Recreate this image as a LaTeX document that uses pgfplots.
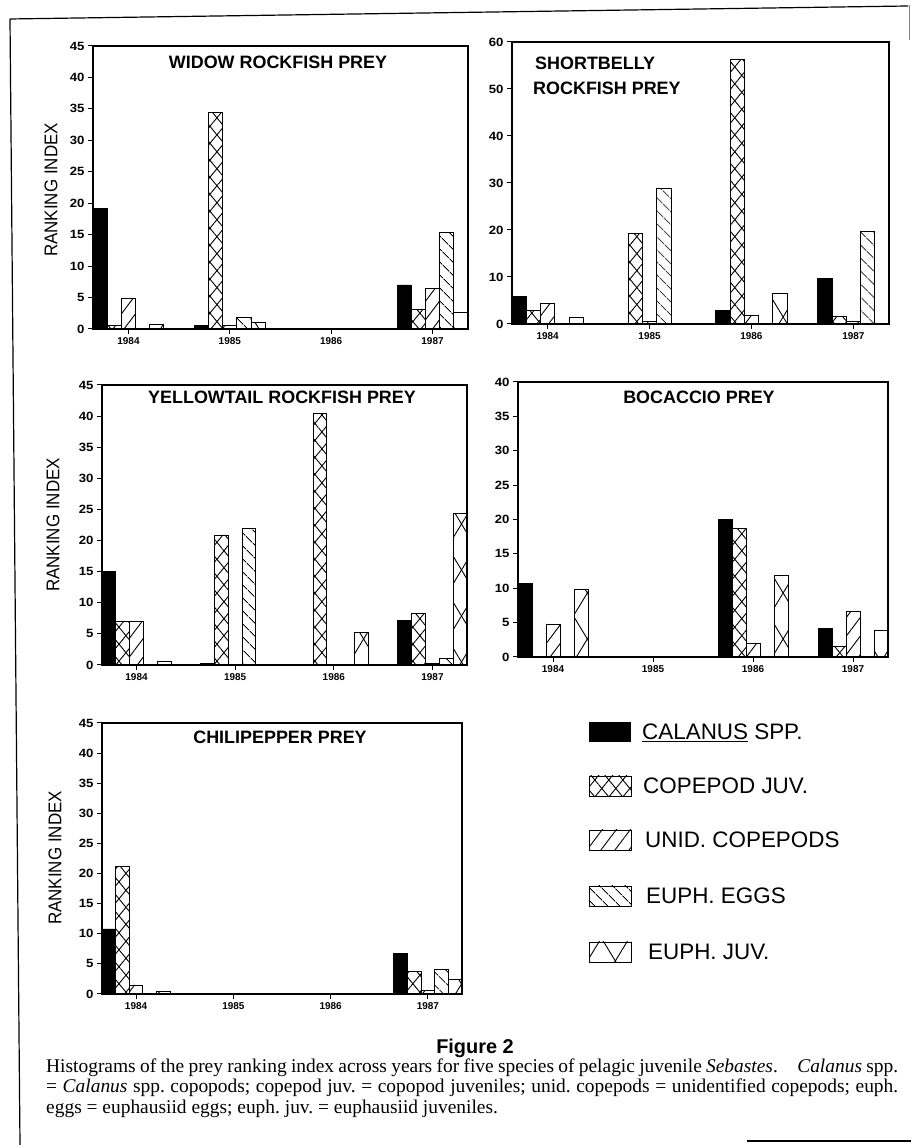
\documentclass[border=0pt]{standalone}
\usepackage{fontspec}
\setmainfont{Liberation Serif}
\newfontfamily\sansf{Liberation Sans}
\newfontfamily\ytickf[FakeStretch=1.1]{Liberation Sans}
\newfontfamily\narrowf[FakeStretch=0.92]{Liberation Sans}
\usepackage{pgfplots}
\pgfplotsset{compat=1.18}
\usetikzlibrary{patterns.meta}
\frenchspacing

\tikzset{
 pcop/.style={pattern={Lines[angle=50.5,distance=10.8bp,line width=0.9bp]},
   postaction={pattern={Lines[angle=-50.5,distance=10.8bp,line width=0.9bp]}}},
 punid/.style={pattern={Lines[angle=53,distance=11.2bp,line width=0.9bp]}},
 peggs/.style={pattern={Lines[angle=-45,distance=10bp,line width=0.9bp]}},
 pjuv/.style={pattern={Lines[angle=58.7,distance=23.9bp,line width=0.9bp]},
   postaction={pattern={Lines[angle=-58.7,distance=23.9bp,line width=0.9bp]}}},
}

\pgfplotsset{
 panel/.style={
  scale only axis, anchor=south west,
  xmin=-0.35, xmax=3.35, ymin=0,
  xtick={0,1,2,3}, xticklabels={1984,1985,1986,1987},
  xtick pos=bottom, ytick pos=left, tick align=outside,
  major tick length=5bp,
  axis line style={line width=1.2bp},
  every tick/.style={black, line width=1bp},
  xticklabel style={font=\sansf\bfseries\fontsize{10}{10}\selectfont},
  /pgf/number format/assume math mode=true,
  yticklabel={\pgfmathprintnumber[assume math mode=true]{\tick}},
  yticklabel style={font=\ytickf\bfseries\fontsize{12}{12}\selectfont},
  bar width=0.14,
 },
 calb/.style={ybar, bar shift=-0.28, draw=black, line width=0.9bp, fill=black},
 copb/.style={ybar, bar shift=-0.14, draw=black, line width=0.9bp, pcop},
 unidb/.style={ybar, bar shift=0, draw=black, line width=0.9bp, punid},
 eggsb/.style={ybar, bar shift=0.14, draw=black, line width=0.9bp, peggs},
 juvb/.style={ybar, bar shift=0.28, draw=black, line width=0.9bp, pjuv},
}

\newcommand\bars[5]{%
 \addplot[calb] coordinates {#1};
 \addplot[copb] coordinates {#2};
 \addplot[unidb] coordinates {#3};
 \addplot[eggsb] coordinates {#4};
 \addplot[juvb] coordinates {#5};
}

\newcommand\titlef{\sansf\bfseries\fontsize{18}{18}\selectfont}
\newcommand\ylabf{\narrowf\fontsize{18.5}{18.5}\selectfont}
\newcommand\legf{\sansf\fontsize{22.5}{22.5}\selectfont}

\begin{document}
\begin{tikzpicture}
\useasboundingbox (0,0) rectangle (911bp,1145bp);

% frame
\draw[line width=1.2bp] (10bp,1126bp) -- (908bp,1139bp);
\draw[line width=1.2bp] (10bp,1126bp) -- (20bp,0bp);
\draw[gray, line width=0.8bp] (909bp,1140bp) -- (909bp,1105bp);
\draw[line width=2bp] (747bp,4bp) -- (911bp,4bp);

% Panel 1: Widow
\begin{axis}[panel, at={(93bp,816bp)}, width=375bp, height=283bp,
  ymax=45, ytick={0,5,...,45}]
\bars{(0,19.1) (1,0.5) (2,0) (3,7.0)}
     {(0,0.6) (1,34.5) (2,0) (3,3.1)}
     {(0,4.8) (1,0.6) (2,0) (3,6.5)}
     {(0,0.1) (1,1.8) (2,0) (3,15.3)}
     {(0,0.8) (1,1.1) (2,0) (3,2.7)}
\end{axis}

% Panel 2: Shortbelly
\begin{axis}[panel, at={(512bp,821bp)}, width=377bp, height=282bp,
  ymax=60, ytick={0,10,...,60}]
\bars{(0,5.9) (1,0.1) (2,2.8) (3,9.6)}
     {(0,2.8) (1,19.3) (2,56.3) (3,1.6)}
     {(0,4.3) (1,0.5) (2,1.8) (3,0.5)}
     {(0,0.1) (1,28.9) (2,0) (3,19.7)}
     {(0,1.4) (1,0.1) (2,6.5) (3,0)}
\end{axis}

% Panel 3: Yellowtail
\begin{axis}[panel, at={(102bp,480bp)}, width=365bp, height=280bp,
  ymax=45, ytick={0,5,...,45}]
\bars{(0,15.0) (1,0.2) (2,0) (3,7.1)}
     {(0,7.0) (1,20.9) (2,40.4) (3,8.3)}
     {(0,7.0) (1,0) (2,0) (3,0.3)}
     {(0,0.1) (1,22.0) (2,0) (3,1.0)}
     {(0,0.5) (1,0) (2,5.2) (3,24.3)}
\end{axis}

% Panel 4: Bocaccio
\begin{axis}[panel, at={(518bp,488bp)}, width=370bp, height=275bp,
  ymax=40, ytick={0,5,...,40}]
\bars{(0,10.7) (1,0) (2,20.0) (3,4.1)}
     {(0,0) (1,0) (2,18.7) (3,1.6)}
     {(0,4.8) (1,0) (2,2.0) (3,6.6)}
     {(0,0) (1,0) (2,0) (3,0)}
     {(0,9.8) (1,0) (2,11.9) (3,3.8)}
\end{axis}

% Panel 5: Chilipepper
\begin{axis}[panel, at={(102bp,151bp)}, width=360bp, height=271bp,
  ymax=45, ytick={0,5,...,45}]
\bars{(0,10.8) (1,0) (2,0) (3,6.7)}
     {(0,21.2) (1,0) (2,0) (3,3.7)}
     {(0,1.5) (1,0) (2,0) (3,0.6)}
     {(0,0) (1,0) (2,0) (3,4.1)}
     {(0,0.4) (1,0) (2,0) (3,2.4)}
\end{axis}

% titles
\node[font=\titlef] at (278bp,1083bp) {WIDOW ROCKFISH PREY};
\node[font=\titlef, anchor=west, inner sep=0pt] at (535bp,1082bp) {SHORTBELLY};
\node[font=\titlef, anchor=west, inner sep=0pt] at (533bp,1057bp) {ROCKFISH PREY};
\node[font=\titlef] at (282bp,748bp) {YELLOWTAIL ROCKFISH PREY};
\node[font=\titlef] at (699bp,748bp) {BOCACCIO PREY};
\node[font=\titlef] at (280bp,408bp) {CHILIPEPPER PREY};

% y labels
\node[font=\ylabf, rotate=90] at (51bp,955bp) {RANKING INDEX};
\node[font=\ylabf, rotate=90] at (53bp,620bp) {RANKING INDEX};
\node[font=\ylabf, rotate=90] at (55bp,287bp) {RANKING INDEX};

% legend
\fill[black] (589bp,403bp) rectangle (631bp,423bp);
\path[pcop, draw=black, line width=0.9bp] (589bp,349bp) rectangle (631bp,369bp);
\path[punid, draw=black, line width=0.9bp] (589bp,295bp) rectangle (631bp,315bp);
\path[peggs, draw=black, line width=0.9bp] (589bp,239bp) rectangle (631bp,259bp);
\path[pjuv, draw=black, line width=0.9bp] (589bp,183bp) rectangle (631bp,203bp);
\node[font=\legf, anchor=base west, inner sep=0pt] at (642bp,405bp) {\underline{CALANUS} SPP.};
\node[font=\legf, anchor=base west, inner sep=0pt] at (643bp,351bp) {COPEPOD JUV.};
\node[font=\legf, anchor=base west, inner sep=0pt] at (645bp,297bp) {UNID. COPEPODS};
\node[font=\legf, anchor=base west, inner sep=0pt] at (646bp,241bp) {EUPH. EGGS};
\node[font=\legf, anchor=base west, inner sep=0pt] at (648bp,185bp) {EUPH. JUV.};

% caption
\node[font=\sansf\bfseries\fontsize{20}{20}\selectfont] at (475bp,97bp) {Figure 2};
\node[anchor=base west, inner sep=0pt, font=\fontsize{19.5}{20}\selectfont] at (46bp,72bp)
 {\makebox[852bp][s]{Histograms of the prey ranking index across years for five species of pelagic juvenile \textit{Sebastes}.\quad \textit{Calanus} spp.}};
\node[anchor=base west, inner sep=0pt, font=\fontsize{19.5}{20}\selectfont] at (46bp,52bp)
 {\makebox[852bp][s]{= \textit{Calanus} spp. copopods; copepod juv. = copopod juveniles; unid. copepods = unidentified copepods; euph.}};
\node[anchor=base west, inner sep=0pt, font=\fontsize{19.5}{20}\selectfont] at (46bp,32bp)
 {eggs = euphausiid eggs; euph. juv. = euphausiid juveniles.};
\end{tikzpicture}
\end{document}
